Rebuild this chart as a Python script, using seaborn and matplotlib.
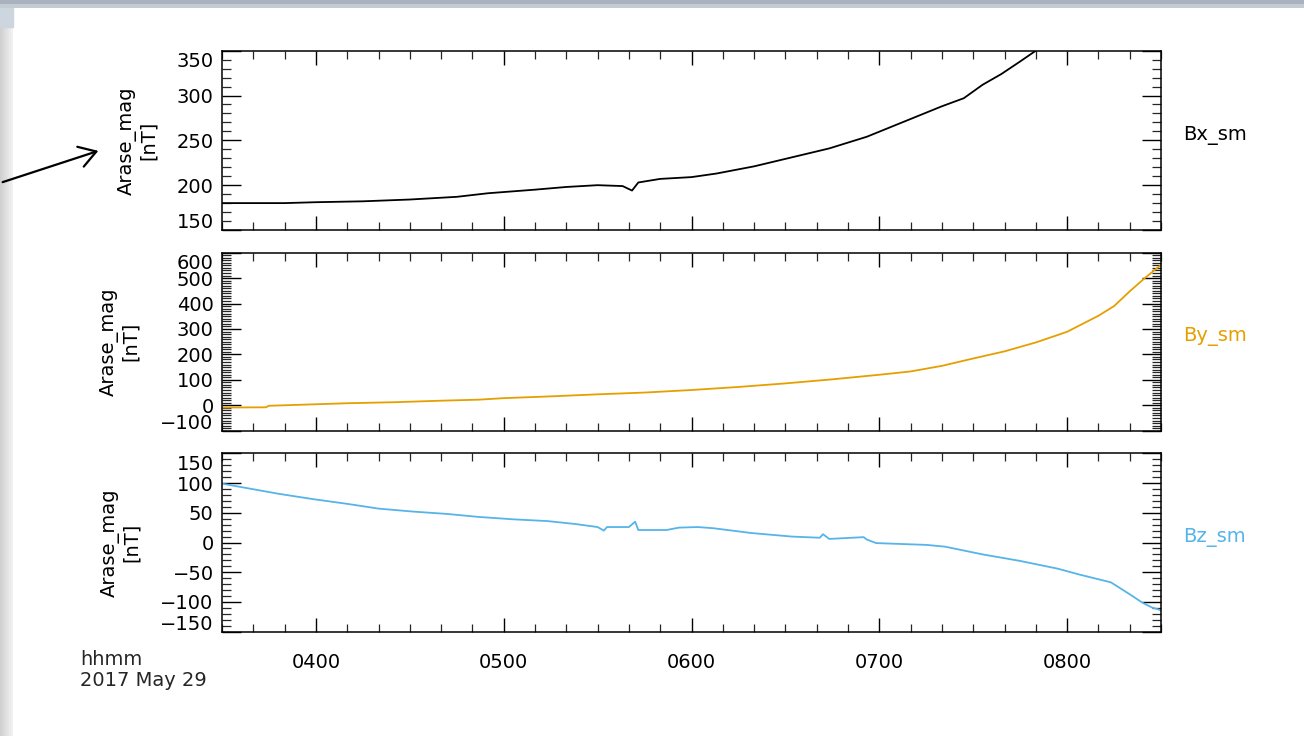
import numpy as np
import pandas as pd
import matplotlib
matplotlib.use("Agg")
import matplotlib.pyplot as plt
import matplotlib.dates as mdates
from matplotlib.ticker import MultipleLocator
from matplotlib.patches import Rectangle, FancyArrowPatch
from matplotlib.transforms import ScaledTranslation
import seaborn as sns

# ---------------- data ----------------
date = "2017-05-29"
bx_time = ["03:30", "03:50", "04:00", "04:15", "04:30", "04:45", "04:55", "05:10", "05:20",
           "05:30", "05:38", "05:41", "05:43", "05:50", "06:00", "06:08", "06:20", "06:32",
           "06:44", "06:56", "07:08", "07:20", "07:27", "07:33", "07:39", "07:45", "07:50",
           "08:00", "08:15", "08:30"]
bx_val = [180, 180, 181, 182, 184, 187, 191, 195, 198,
          200, 199, 194, 203, 207, 209, 213, 221, 231,
          241, 254, 271, 288, 297, 312, 324, 338, 350,
          372, 410, 455]

by_time = ["03:30", "03:44", "03:45", "04:00", "04:10", "04:25", "04:40", "04:52", "05:00",
           "05:15", "05:30", "05:45", "06:00", "06:15", "06:30", "06:45", "07:00", "07:10",
           "07:20", "07:30", "07:40", "07:50", "08:00", "08:10", "08:15", "08:20", "08:25",
           "08:30"]
by_val = [-9, -8, -2, 4, 8, 12, 18, 22, 28,
          35, 43, 50, 60, 72, 86, 102, 120, 133,
          155, 184, 212, 247, 289, 352, 390, 448, 502,
          552]

bz_time = ["03:30", "03:48", "03:59", "04:10", "04:20", "04:31", "04:42", "04:52", "05:03",
           "05:14", "05:23", "05:30", "05:32", "05:33", "05:40", "05:42", "05:43", "05:52",
           "05:56", "06:02", "06:07", "06:19", "06:32", "06:41", "06:42", "06:44", "06:55",
           "06:56", "06:59", "07:15", "07:21", "07:33", "07:45", "07:57", "08:04", "08:14",
           "08:20", "08:24", "08:27", "08:30"]
bz_val = [99, 82, 73, 65, 57, 52, 48, 43, 39,
          36, 31, 26, 20, 26, 26, 35, 21, 21,
          25, 26, 24, 16, 10, 8, 14, 6, 9,
          5, -1, -4, -7, -20, -31, -44, -54, -67,
          -87, -101, -109, -114]

panel_names = ["Bx_sm", "By_sm", "Bz_sm"]
panel_colors = ["#000000", "#E69F00", "#56B4E9"]
panel_ylims = [(150, 350), (-100, 600), (-150, 150)]
panel_major = [50, 100, 50]
ylabel_text = "Arase_mag\n[nT]"
xlabel_lines = ["hhmm", "2017 May 29"]
x_start, x_end = "03:30", "08:30"

# ---------------- figure ----------------
sns.set_style("ticks")
plt.rcParams["font.family"] = ["DejaVu Sans"]

W, H = 1304, 736
fig = plt.figure(figsize=(W / 100, H / 100), dpi=100)
fig.patch.set_facecolor("white")


def fx(px):
    return px / W


def fy(py):
    return 1 - py / H


# screenshot frame (window chrome)
bg = fig.add_axes([0, 0, 1, 1], zorder=-10)
bg.axis("off")
grad = np.linspace(0, 1, 50)[None, :]
bg.imshow(np.vstack([grad] * 2), extent=(0, 13, H, 27), aspect="auto",
          cmap=matplotlib.colors.LinearSegmentedColormap.from_list("g", ["#cfcfcf", "#f3f3f3"]),
          zorder=0)
bg.add_patch(Rectangle((0, 8), 13, 19, color="#cdd5de", zorder=1))
topg = np.linspace(0, 1, 2)[:, None]
bg.imshow(np.hstack([topg] * 2), extent=(0, W, 8, 0), aspect="auto",
          cmap=matplotlib.colors.LinearSegmentedColormap.from_list("t", ["#aab3bd", "#c3cbd3"]),
          zorder=1)
bg.set_xlim(0, W)
bg.set_ylim(H, 0)


def to_dt(lst):
    return pd.to_datetime([f"{date} {t}" for t in lst])


series = [
    pd.DataFrame({"time": to_dt(bx_time), "val": bx_val}),
    pd.DataFrame({"time": to_dt(by_time), "val": by_val}),
    pd.DataFrame({"time": to_dt(bz_time), "val": bz_val}),
]

panels_px = [(50.7, 230.0), (252.7, 430.7), (453.3, 631.7)]
left_px, right_px = 222, 1161
ylabel_x = [138, 120, 121]
xmin, xmax = to_dt([x_start, x_end])

axes = []
for i, (top, bot) in enumerate(panels_px):
    ax = fig.add_axes([fx(left_px), fy(bot), fx(right_px - left_px), (bot - top) / H])
    axes.append(ax)
    sns.lineplot(data=series[i], x="time", y="val", ax=ax, color=panel_colors[i],
                 linewidth=1.3, estimator=None)
    ax.set_xlim(xmin, xmax)
    ax.set_ylim(*panel_ylims[i])
    ax.set_xlabel("")
    ax.set_ylabel("")
    ax.yaxis.set_major_locator(MultipleLocator(panel_major[i]))
    ax.yaxis.set_minor_locator(MultipleLocator(10))
    ax.xaxis.set_major_locator(mdates.HourLocator())
    ax.xaxis.set_minor_locator(mdates.MinuteLocator(byminute=range(0, 60, 10)))
    ax.xaxis.set_major_formatter(mdates.DateFormatter("%H%M"))
    for s in ax.spines.values():
        s.set_visible(True)
        s.set_linewidth(1.1)
        s.set_color("black")
    ax.tick_params(axis="y", which="major", direction="in", length=13.5, width=1.0,
                   left=True, right=True, labelsize=14, pad=6, colors="black")
    ax.tick_params(axis="y", which="minor", direction="in", length=6.5, width=0.9,
                   left=True, right=True)
    ax.tick_params(axis="x", which="major", direction="in", length=10, width=1.0,
                   top=True, bottom=True, labelsize=14, pad=15, colors="black")
    ax.tick_params(axis="x", which="minor", direction="in", length=5.5, width=0.9,
                   top=True, bottom=True)
    if i < 2:
        ax.tick_params(axis="x", labelbottom=False)
    ax.set_facecolor("white")
    ax.patch.set_alpha(0)

    yc = (top + bot) / 2
    fig.text(fx(ylabel_x[i]), fy(yc), ylabel_text, rotation=90, ha="center", va="center",
             fontsize=14, linespacing=1.12, color="black")
    fig.text(fx(1183), fy(yc - 5), panel_names[i], ha="left", va="center",
             fontsize=14, color=panel_colors[i])

fig.text(fx(80), fy(665), xlabel_lines[0], ha="left", va="baseline", fontsize=14)
fig.text(fx(80), fy(686), xlabel_lines[1], ha="left", va="baseline", fontsize=14)

# annotation arrow on the left
arrow = FancyArrowPatch((fx(0), fy(183)), (fx(101), fy(150)), transform=fig.transFigure,
                        arrowstyle="->,head_length=8,head_width=5", color="black",
                        linewidth=1.6, mutation_scale=1.5)
fig.add_artist(arrow)

# IDL-style: edge tick labels nudged inward
fig.canvas.draw()
for i, ax in enumerate(axes):
    lo, hi = panel_ylims[i]
    for tick in ax.yaxis.get_major_ticks():
        v = tick.get_loc()
        lab = tick.label1
        if abs(v - hi) < 1e-6:
            lab.set_transform(lab.get_transform() + ScaledTranslation(0, -9 / 100, fig.dpi_scale_trans))
        elif abs(v - lo) < 1e-6:
            lab.set_transform(lab.get_transform() + ScaledTranslation(0, 9 / 100, fig.dpi_scale_trans))

fig.savefig("out.png", dpi=100)
